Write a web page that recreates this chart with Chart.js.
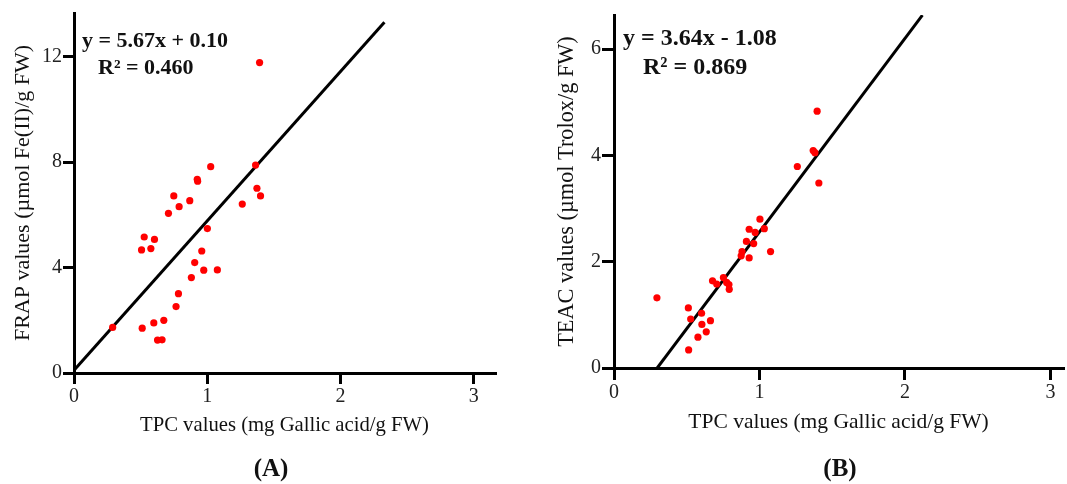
<!DOCTYPE html>
<html>
<head>
<meta charset="utf-8">
<script src="https://cdn.jsdelivr.net/npm/chart.js@4"></script>
<style>
  html, body { margin: 0; padding: 0; background: #fff; }
  #wrap { position: relative; width: 1067px; height: 484px; }
  .panel { position: absolute; top: 0; height: 484px; }
</style>
</head>
<body>
<div id="wrap">
  <div class="panel" style="left:0;width:533px"><canvas id="chartA"></canvas></div>
  <div class="panel" style="left:533px;width:534px"><canvas id="chartB"></canvas></div>
</div>
<script>
// panel A: TPC vs FRAP
const tpcA = [1.393, 1.026, 1.363, 0.925, 0.928, 1.373, 1.40, 0.749, 0.869, 0.789,
              0.709, 1.263, 1.001, 0.527, 0.604, 0.507, 0.577, 0.959, 0.906, 0.974,
              1.076, 0.881, 0.784, 0.766, 0.29, 0.512, 0.599, 0.674, 0.627, 0.661];
const frap = [11.78, 7.83, 7.89, 7.35, 7.28, 7.01, 6.72, 6.72, 6.54, 6.31,
              6.06, 6.41, 5.48, 5.16, 5.07, 4.67, 4.72, 4.63, 4.19, 3.90,
              3.91, 3.62, 3.01, 2.52, 1.73, 1.70, 1.90, 2.00, 1.25, 1.26];
const slopeA = 5.67;
const interceptA = 0.10;
const fitXA = [0, 2.33];

// panel B: TPC vs TEAC
const tpcB = [1.396, 1.369, 1.381, 1.26, 1.408, 1.003, 0.929, 1.033, 0.97, 0.91,
              0.96, 0.88, 1.076, 0.874, 0.929, 0.677, 0.752, 0.706, 0.774, 0.79,
              0.792, 0.295, 0.511, 0.527, 0.602, 0.663, 0.604, 0.634, 0.577, 0.513];
const teac = [4.83, 4.09, 4.05, 3.79, 3.48, 2.80, 2.61, 2.62, 2.55, 2.38,
              2.34, 2.19, 2.19, 2.11, 2.07, 1.64, 1.70, 1.58, 1.61, 1.57,
              1.48, 1.32, 1.13, 0.92, 1.03, 0.89, 0.82, 0.68, 0.58, 0.34];
const slopeB = 3.64;
const interceptB = -1.08;
const fitXB = [0.297, 2.12];

const xTicks = [0, 1, 2, 3];
const yTicksA = [0, 4, 8, 12];
const yTicksB = [0, 2, 4, 6];

const serif = "'Liberation Serif', 'DejaVu Serif', serif";

// equation + panel letter drawn on top
const textPlugin = {
  id: 'panelText',
  afterDraw(chart, args, o) {
    const ctx = chart.ctx;
    const a = chart.chartArea;
    ctx.save();
    ctx.fillStyle = '#111';
    ctx.textBaseline = 'middle';
    ctx.textAlign = 'left';
    ctx.font = 'bold ' + o.eqSize + 'px ' + serif;
    ctx.fillText(o.eq, a.left + o.eqX, o.eqY);
    ctx.fillText(o.r2, a.left + o.r2X, o.r2Y);
    ctx.textAlign = 'center';
    ctx.font = 'bold 25px ' + serif;
    ctx.fillText(o.tag, o.tagX, o.tagY);
    ctx.restore();
  }
};

function makePanel(id, p) {
  return new Chart(document.getElementById(id), {
    type: 'scatter',
    data: {
      datasets: [
        {
          data: p.xs.map((x, i) => ({ x: x, y: p.ys[i] })),
          backgroundColor: '#ff0000',
          borderWidth: 0,
          pointRadius: 3.6,
          order: 0
        },
        {
          type: 'line',
          data: p.fitX.map(x => ({ x: x, y: p.slope * x + p.intercept })),
          borderColor: '#000',
          borderWidth: 3,
          pointRadius: 0,
          order: 1
        }
      ]
    },
    options: {
      responsive: true,
      maintainAspectRatio: false,
      animation: false,
      layout: { padding: p.pad },
      plugins: {
        legend: { display: false },
        tooltip: { enabled: false },
        panelText: p.text
      },
      scales: {
        x: {
          type: 'linear',
          min: 0,
          max: p.xMax,
          afterBuildTicks: s => { s.ticks = xTicks.map(v => ({ value: v })); },
          afterFit: s => { s.height = p.xH; },
          grid: { drawOnChartArea: false, color: '#000', lineWidth: 3, tickColor: '#000', tickWidth: 3, tickLength: p.tick },
          border: { color: '#000', width: 3 },
          ticks: { color: '#222', font: { family: serif, size: 20 }, padding: 1, maxRotation: 0 },
          title: {
            display: true,
            text: 'TPC values (mg Gallic acid/g FW)',
            color: '#111',
            font: { family: serif, size: p.xTitleSize },
            padding: { top: 0, bottom: 2 }
          }
        },
        y: {
          type: 'linear',
          min: 0,
          max: p.yMax,
          afterBuildTicks: s => { s.ticks = p.yTicks.map(v => ({ value: v })); },
          afterFit: s => { s.width = p.yW; },
          grid: { drawOnChartArea: false, color: '#000', lineWidth: 3, tickColor: '#000', tickWidth: 3, tickLength: p.tick },
          border: { color: '#000', width: 3 },
          ticks: { color: '#222', font: { family: serif, size: 20 }, padding: 1 },
          title: {
            display: true,
            text: p.yTitle,
            color: '#111',
            font: { family: serif, size: p.yTitleSize },
            padding: { top: p.yTitlePad, bottom: 0 }
          }
        }
      }
    },
    plugins: [textPlugin]
  });
}

makePanel('chartA', {
  xs: tpcA, ys: frap, slope: slopeA, intercept: interceptA, fitX: fitXA,
  xMax: 3.16, yMax: 13.66, yTicks: yTicksA,
  yTitle: 'FRAP values (\u00b5mol Fe(II)/g FW)',
  pad: { left: 0, top: 13, right: 38, bottom: 44 },
  xH: 67, yW: 74, tick: 11, yTitlePad: 10,
  xTitleSize: 20.7, yTitleSize: 22,
  text: { eq: 'y = 5.67x + 0.10', eqSize: 22, eqX: 8, eqY: 41, r2: 'R\u00b2 = 0.460', r2X: 24, r2Y: 68,
          tag: '(A)', tagX: 271, tagY: 470 }
});

makePanel('chartB', {
  xs: tpcB, ys: teac, slope: slopeB, intercept: interceptB, fitX: fitXB,
  xMax: 3.086, yMax: 6.64, yTicks: yTicksB,
  yTitle: 'TEAC values (\u00b5mol Trolox/g FW)',
  pad: { left: 0, top: 15, right: 0, bottom: 47 },
  xH: 69, yW: 81, tick: 12, yTitlePad: 21,
  xTitleSize: 21.5, yTitleSize: 22.3,
  text: { eq: 'y = 3.64x - 1.08', eqSize: 24, eqX: 9, eqY: 39, r2: 'R\u00b2 = 0.869', r2X: 29, r2Y: 68,
          tag: '(B)', tagX: 307, tagY: 470 }
});
</script>
</body>
</html>
